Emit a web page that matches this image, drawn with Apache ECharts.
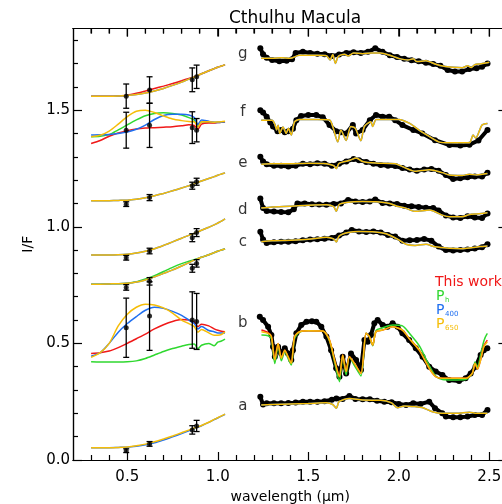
<!DOCTYPE html>
<html>
<head>
<meta charset="utf-8">
<script src="https://cdn.jsdelivr.net/npm/echarts@6.0.0/dist/echarts.min.js"></script>
<style>
  html, body { margin: 0; padding: 0; background: #fff; }
  #chart { width: 502px; height: 504px; }
</style>
</head>
<body>
<div id="chart"></div>
<script>
// ---- Visible range: model curves (I/F, offset per spectrum) ----
const VIS_WL = [0.30,0.35,0.40,0.45,0.50,0.55,0.60,0.65,0.70,0.75,0.80,0.84,0.87,0.89,0.91,0.95,0.98,1.00,1.02,1.04];

const VIS_A       = [0.053,0.053,0.053,0.054,0.056,0.061,0.068,0.078,0.090,0.103,0.117,0.128,0.137,0.142,0.148,0.162,0.174,0.181,0.189,0.197];
const VIS_A_P400  = [0.053,0.053,0.053,0.054,0.055,0.059,0.065,0.074,0.086,0.099,0.113,0.125,0.135,0.141,0.147,0.161,0.173,0.180,0.188,0.196];

const VIS_B_RED    = [0.457,0.460,0.467,0.482,0.500,0.520,0.540,0.562,0.580,0.594,0.602,0.600,0.590,0.572,0.582,0.575,0.562,0.556,0.552,0.550];
const VIS_B_GREEN  = [0.421,0.420,0.420,0.420,0.421,0.425,0.435,0.450,0.465,0.478,0.488,0.495,0.497,0.477,0.492,0.500,0.490,0.505,0.510,0.518];
const VIS_B_BLUE   = [0.445,0.460,0.500,0.548,0.585,0.615,0.642,0.655,0.650,0.637,0.620,0.600,0.585,0.562,0.572,0.555,0.550,0.545,0.545,0.545];
const VIS_B_YELLOW = [0.440,0.460,0.500,0.575,0.625,0.655,0.668,0.665,0.652,0.630,0.600,0.585,0.572,0.548,0.560,0.545,0.535,0.535,0.538,0.550];

const VIS_C       = [0.754,0.754,0.755,0.756,0.758,0.763,0.772,0.785,0.800,0.815,0.832,0.846,0.857,0.863,0.869,0.880,0.889,0.895,0.900,0.905];
const VIS_C_GREEN = [0.754,0.754,0.755,0.756,0.758,0.764,0.776,0.790,0.808,0.826,0.842,0.852,0.859,0.864,0.869,0.880,0.889,0.895,0.900,0.905];

const VIS_D = [0.879,0.879,0.879,0.880,0.882,0.887,0.895,0.906,0.920,0.935,0.951,0.963,0.972,0.978,0.985,0.998,1.008,1.016,1.024,1.034];
const VIS_E = [1.111,1.111,1.112,1.113,1.114,1.118,1.124,1.133,1.143,1.154,1.166,1.176,1.184,1.190,1.196,1.207,1.215,1.221,1.226,1.231];

const VIS_F_RED    = [1.357,1.370,1.388,1.402,1.412,1.419,1.423,1.425,1.427,1.429,1.433,1.437,1.434,1.418,1.440,1.445,1.445,1.447,1.448,1.450];
const VIS_F_GREEN  = [1.386,1.388,1.395,1.415,1.437,1.458,1.476,1.486,1.489,1.486,1.479,1.468,1.457,1.435,1.450,1.448,1.447,1.448,1.449,1.450];
const VIS_F_BLUE   = [1.393,1.394,1.396,1.400,1.406,1.418,1.436,1.460,1.477,1.482,1.482,1.479,1.468,1.438,1.458,1.452,1.448,1.447,1.448,1.450];
const VIS_F_YELLOW = [1.386,1.392,1.410,1.440,1.472,1.495,1.500,1.490,1.475,1.462,1.455,1.451,1.450,1.427,1.450,1.450,1.448,1.449,1.450,1.452];

const VIS_G     = [1.560,1.560,1.560,1.561,1.563,1.567,1.573,1.582,1.593,1.606,1.620,1.633,1.642,1.649,1.656,1.669,1.678,1.684,1.689,1.695];
const VIS_G_RED = [1.560,1.560,1.560,1.561,1.564,1.572,1.582,1.593,1.603,1.614,1.626,1.636,1.643,1.649,1.656,1.669,1.678,1.684,1.689,1.695];

// ---- Photometry with 1-sigma errors ----
const PHOT_WL = [0.494, 0.623, 0.859, 0.883];
const PHOT_A = [0.040,0.069,0.129,0.146]; const ERR_A = [0.008,0.010,0.018,0.024];
const PHOT_B = [0.567,0.617,0.600,0.594]; const ERR_B = [0.127,0.147,0.121,0.120];
const PHOT_C = [0.740,0.766,0.822,0.843]; const ERR_C = [0.012,0.016,0.017,0.016];
const PHOT_D = [0.867,0.896,0.953,0.975]; const ERR_D = [0.010,0.012,0.017,0.017];
const PHOT_E = [1.097,1.125,1.176,1.193]; const ERR_E = [0.010,0.013,0.015,0.015];
const PHOT_F = [1.414,1.435,1.425,1.414]; const ERR_F = [0.077,0.095,0.068,0.050];
const PHOT_G = [1.560,1.586,1.630,1.643]; const ERR_G = [0.052,0.057,0.051,0.050];

// ---- Near-infrared spectra [wavelength, I/F] ----
const NIR_DATA_A = [[1.235,0.271],[1.25,0.238],[1.27,0.243],[1.31,0.243],[1.35,0.243],[1.39,0.244],[1.43,0.246],[1.47,0.25],[1.51,0.25],[1.55,0.25],[1.59,0.252],[1.63,0.258],[1.655,0.264],[1.69,0.262],[1.727,0.274],[1.76,0.262],[1.80,0.26],[1.84,0.26],[1.88,0.254],[1.92,0.25],[1.96,0.248],[2.00,0.24],[2.04,0.236],[2.08,0.243],[2.12,0.24],[2.168,0.25],[2.20,0.222],[2.24,0.2],[2.26,0.186],[2.30,0.183],[2.34,0.183],[2.38,0.186],[2.42,0.193],[2.46,0.193],[2.49,0.214]];
const NIR_MODEL_A = [[1.24,0.236],[1.30,0.238],[1.40,0.24],[1.50,0.242],[1.60,0.245],[1.635,0.238],[1.655,0.222],[1.67,0.25],[1.727,0.264],[1.80,0.257],[1.90,0.256],[1.96,0.245],[1.993,0.224],[2.03,0.232],[2.09,0.229],[2.13,0.225],[2.186,0.207],[2.24,0.2],[2.32,0.2],[2.39,0.205],[2.43,0.2],[2.49,0.2]];

const NIR_DATA_B = [[1.232,0.614],[1.25,0.6],[1.278,0.571],[1.296,0.536],[1.305,0.486],[1.315,0.443],[1.333,0.486],[1.35,0.457],[1.37,0.479],[1.388,0.457],[1.406,0.429],[1.415,0.471],[1.434,0.543],[1.461,0.579],[1.49,0.593],[1.52,0.595],[1.544,0.593],[1.572,0.571],[1.60,0.529],[1.626,0.471],[1.654,0.393],[1.672,0.357],[1.69,0.443],[1.709,0.371],[1.736,0.457],[1.764,0.429],[1.791,0.386],[1.81,0.514],[1.828,0.507],[1.846,0.536],[1.865,0.586],[1.883,0.6],[1.911,0.579],[1.938,0.571],[1.966,0.586],[1.993,0.571],[2.02,0.543],[2.057,0.514],[2.094,0.479],[2.131,0.443],[2.168,0.4],[2.204,0.379],[2.241,0.364],[2.278,0.343],[2.333,0.339],[2.369,0.35],[2.397,0.371],[2.424,0.4],[2.452,0.45],[2.47,0.471],[2.489,0.479]];
const NIR_B_YELLOW = [[1.241,0.55],[1.278,0.543],[1.296,0.53],[1.315,0.429],[1.333,0.5],[1.351,0.436],[1.37,0.471],[1.388,0.443],[1.406,0.414],[1.424,0.529],[1.452,0.55],[1.50,0.554],[1.58,0.553],[1.617,0.514],[1.645,0.429],[1.672,0.357],[1.69,0.45],[1.709,0.379],[1.727,0.443],[1.755,0.414],[1.791,0.371],[1.819,0.543],[1.837,0.53],[1.856,0.493],[1.874,0.55],[1.911,0.557],[1.966,0.571],[2.02,0.557],[2.057,0.521],[2.113,0.471],[2.168,0.393],[2.204,0.357],[2.241,0.35],[2.30,0.35],[2.369,0.35],[2.406,0.371],[2.421,0.414],[2.435,0.39],[2.452,0.429],[2.47,0.486],[2.489,0.507]];
const NIR_B_RED = [[1.241,0.557],[1.278,0.546],[1.296,0.53],[1.315,0.432],[1.333,0.5],[1.351,0.438],[1.37,0.471],[1.388,0.443],[1.406,0.416],[1.424,0.529],[1.452,0.55],[1.50,0.554],[1.58,0.553],[1.617,0.514],[1.645,0.429],[1.672,0.36],[1.69,0.45],[1.709,0.38],[1.727,0.443],[1.755,0.414],[1.791,0.372],[1.819,0.543],[1.837,0.53],[1.856,0.493],[1.874,0.55],[1.911,0.557],[1.966,0.571],[2.02,0.557],[2.057,0.521],[2.113,0.471],[2.168,0.393],[2.204,0.357],[2.241,0.35],[2.30,0.35],[2.369,0.35],[2.406,0.371],[2.421,0.414],[2.435,0.39],[2.452,0.43],[2.47,0.49],[2.489,0.514]];
const NIR_B_GREEN = [[1.241,0.536],[1.278,0.533],[1.296,0.52],[1.315,0.414],[1.333,0.49],[1.351,0.425],[1.37,0.465],[1.388,0.435],[1.406,0.407],[1.424,0.52],[1.452,0.548],[1.50,0.554],[1.58,0.553],[1.617,0.51],[1.645,0.42],[1.672,0.336],[1.69,0.445],[1.709,0.365],[1.727,0.44],[1.755,0.405],[1.791,0.36],[1.819,0.543],[1.837,0.53],[1.856,0.49],[1.874,0.555],[1.911,0.567],[1.966,0.579],[2.02,0.575],[2.057,0.545],[2.113,0.49],[2.168,0.405],[2.204,0.36],[2.241,0.345],[2.30,0.343],[2.369,0.345],[2.406,0.371],[2.421,0.42],[2.435,0.4],[2.452,0.45],[2.47,0.51],[2.489,0.543]];

const NIR_DATA_C = [[1.235,0.979],[1.25,0.945],[1.27,0.93],[1.31,0.934],[1.35,0.936],[1.39,0.936],[1.43,0.938],[1.47,0.942],[1.51,0.945],[1.55,0.946],[1.59,0.949],[1.63,0.952],[1.67,0.962],[1.71,0.975],[1.74,0.986],[1.78,0.98],[1.82,0.978],[1.86,0.98],[1.90,0.975],[1.94,0.965],[1.98,0.958],[2.02,0.94],[2.06,0.942],[2.10,0.943],[2.14,0.948],[2.18,0.94],[2.22,0.915],[2.26,0.9],[2.30,0.898],[2.34,0.9],[2.38,0.902],[2.42,0.907],[2.46,0.912],[2.49,0.925]];
const NIR_MODEL_C = [[1.24,0.936],[1.30,0.94],[1.40,0.942],[1.50,0.946],[1.60,0.955],[1.64,0.948],[1.655,0.935],[1.67,0.96],[1.72,0.975],[1.78,0.98],[1.87,0.978],[1.93,0.97],[1.99,0.948],[2.04,0.925],[2.09,0.92],[2.15,0.925],[2.20,0.914],[2.28,0.908],[2.35,0.906],[2.40,0.91],[2.45,0.915],[2.49,0.918]];

const NIR_DATA_D = [[1.235,1.121],[1.25,1.08],[1.27,1.068],[1.31,1.065],[1.35,1.063],[1.39,1.062],[1.42,1.075],[1.44,1.1],[1.48,1.1],[1.52,1.097],[1.56,1.095],[1.60,1.094],[1.64,1.098],[1.68,1.1],[1.72,1.115],[1.76,1.108],[1.80,1.106],[1.84,1.108],[1.87,1.117],[1.91,1.102],[1.95,1.1],[1.99,1.098],[2.03,1.09],[2.07,1.088],[2.11,1.085],[2.15,1.082],[2.19,1.08],[2.22,1.07],[2.26,1.048],[2.30,1.04],[2.34,1.038],[2.38,1.045],[2.42,1.04],[2.46,1.038],[2.49,1.057]];
const NIR_MODEL_D = [[1.24,1.08],[1.30,1.085],[1.40,1.088],[1.50,1.092],[1.60,1.094],[1.64,1.086],[1.655,1.066],[1.67,1.095],[1.72,1.105],[1.80,1.108],[1.87,1.107],[1.95,1.1],[1.99,1.088],[2.03,1.082],[2.09,1.066],[2.17,1.072],[2.24,1.05],[2.28,1.043],[2.35,1.043],[2.39,1.052],[2.43,1.055],[2.49,1.06]];

const NIR_DATA_E = [[1.235,1.3],[1.25,1.28],[1.27,1.268],[1.31,1.262],[1.35,1.262],[1.39,1.258],[1.43,1.262],[1.47,1.27],[1.51,1.268],[1.55,1.272],[1.59,1.27],[1.63,1.262],[1.67,1.27],[1.71,1.28],[1.75,1.29],[1.78,1.285],[1.82,1.278],[1.86,1.27],[1.90,1.265],[1.94,1.262],[1.98,1.26],[2.02,1.252],[2.06,1.245],[2.10,1.24],[2.14,1.245],[2.18,1.248],[2.22,1.24],[2.26,1.222],[2.30,1.205],[2.34,1.208],[2.38,1.212],[2.42,1.215],[2.46,1.215],[2.49,1.232]];
const NIR_MODEL_E = [[1.24,1.268],[1.30,1.27],[1.40,1.27],[1.50,1.272],[1.60,1.27],[1.64,1.262],[1.655,1.25],[1.67,1.272],[1.73,1.285],[1.765,1.295],[1.80,1.28],[1.87,1.273],[1.98,1.27],[2.02,1.258],[2.09,1.238],[2.17,1.244],[2.24,1.232],[2.28,1.222],[2.35,1.22],[2.39,1.225],[2.43,1.222],[2.49,1.228]];

const NIR_DATA_F = [[1.235,1.5],[1.25,1.49],[1.27,1.472],[1.29,1.447],[1.305,1.43],[1.33,1.41],[1.35,1.415],[1.37,1.405],[1.39,1.41],[1.415,1.42],[1.434,1.457],[1.46,1.475],[1.50,1.479],[1.544,1.479],[1.58,1.47],[1.617,1.436],[1.654,1.41],[1.68,1.405],[1.709,1.4],[1.746,1.436],[1.764,1.4],[1.80,1.415],[1.84,1.457],[1.874,1.479],[1.91,1.472],[1.947,1.472],[1.98,1.457],[2.02,1.436],[2.08,1.415],[2.13,1.4],[2.20,1.371],[2.28,1.35],[2.34,1.348],[2.39,1.352],[2.44,1.37],[2.49,1.415]];
const NIR_MODEL_F = [[1.24,1.457],[1.30,1.457],[1.315,1.44],[1.325,1.415],[1.333,1.435],[1.342,1.4],[1.36,1.428],[1.378,1.4],[1.39,1.422],[1.406,1.393],[1.424,1.45],[1.45,1.46],[1.55,1.46],[1.617,1.458],[1.635,1.43],[1.663,1.364],[1.68,1.415],[1.709,1.37],[1.735,1.43],[1.76,1.422],[1.79,1.369],[1.81,1.43],[1.845,1.45],[1.856,1.43],[1.875,1.46],[1.95,1.46],[2.0,1.46],[2.06,1.443],[2.11,1.415],[2.17,1.386],[2.22,1.364],[2.28,1.36],[2.39,1.36],[2.41,1.393],[2.425,1.38],[2.46,1.436],[2.49,1.443]];

const NIR_DATA_G = [[1.235,1.765],[1.25,1.74],[1.27,1.725],[1.30,1.715],[1.34,1.71],[1.38,1.712],[1.41,1.718],[1.43,1.745],[1.47,1.75],[1.51,1.745],[1.55,1.742],[1.59,1.74],[1.63,1.732],[1.67,1.738],[1.71,1.745],[1.75,1.748],[1.79,1.745],[1.83,1.75],[1.87,1.765],[1.91,1.75],[1.95,1.735],[1.99,1.728],[2.03,1.72],[2.07,1.714],[2.11,1.71],[2.15,1.703],[2.19,1.698],[2.23,1.69],[2.27,1.672],[2.31,1.666],[2.35,1.666],[2.39,1.676],[2.43,1.68],[2.46,1.686],[2.49,1.7]];
const NIR_MODEL_G = [[1.24,1.722],[1.30,1.722],[1.35,1.725],[1.40,1.722],[1.45,1.735],[1.55,1.735],[1.60,1.733],[1.62,1.715],[1.635,1.738],[1.65,1.7],[1.665,1.73],[1.70,1.74],[1.72,1.732],[1.75,1.745],[1.80,1.742],[1.85,1.745],[1.90,1.745],[1.95,1.735],[2.00,1.722],[2.05,1.715],[2.08,1.72],[2.10,1.708],[2.15,1.712],[2.20,1.698],[2.25,1.688],[2.30,1.684],[2.35,1.682],[2.38,1.69],[2.40,1.683],[2.42,1.695],[2.45,1.698],[2.48,1.702],[2.50,1.705]];

// ---- Spectrum letters ----
const LETTERS   = ['a','b','c','d','e','f','g'];
const LETTER_WL = 1.138;
const LETTER_Y  = [0.233,0.586,0.936,1.072,1.272,1.493,1.740];

// ---- Axis ranges and ticks ----
const X_MIN = 0.2, X_MAX = 2.6, Y_MIN = 0, Y_MAX = 1.85;
const X_MAJOR = [0.5,1.0,1.5,2.0,2.5];
const X_MINOR = [0.3,0.4,0.6,0.7,0.8,0.9,1.1,1.2,1.3,1.4,1.6,1.7,1.8,1.9,2.1,2.2,2.3,2.4];
const Y_MAJOR = [0.0,0.5,1.0,1.5];
const Y_MINOR = [0.1,0.2,0.3,0.4,0.6,0.7,0.8,0.9,1.1,1.2,1.3,1.4,1.6,1.7,1.8];

const RED = '#f01818', GREEN = '#2fd82f', BLUE = '#1f6ff0', YELLOW = '#f5bd08';
const FONT = 'DejaVu Sans';
const W = 502, H = 504;
const GRID = { left: 73, top: 28.5, right: -5.4, bottom: 44, outerBoundsMode: 'none', containLabel: false };

const pairs = (xs, ys) => xs.map((x, i) => [x, ys[i]]);

function model(data, color, z) {
  return { type: 'line', data, showSymbol: false, smooth: 0.25, z,
    lineStyle: { color, width: 1.5 }, itemStyle: { color }, silent: true };
}
function nirData(data) {
  return { type: 'line', data, symbol: 'circle', symbolSize: 6, showSymbol: true, z: 1,
    lineStyle: { color: '#000', width: 4 }, itemStyle: { color: '#000' }, silent: true };
}
function phot(vals, errs) {
  return [
    { type: 'custom', z: 10, silent: true,
      data: PHOT_WL.map((x, i) => [x, vals[i], errs[i]]),
      renderItem: (params, api) => {
        const x = api.value(0), y = api.value(1), e = api.value(2);
        const t = api.coord([x, y + e]), b = api.coord([x, y - e]);
        const st = { stroke: '#000', lineWidth: 1.3 };
        return { type: 'group', children: [
          { type: 'line', shape: { x1: t[0], y1: t[1], x2: b[0], y2: b[1] }, style: st },
          { type: 'line', shape: { x1: t[0] - 3, y1: t[1], x2: t[0] + 3, y2: t[1] }, style: st },
          { type: 'line', shape: { x1: b[0] - 3, y1: b[1], x2: b[0] + 3, y2: b[1] }, style: st }
        ]};
      } },
    { type: 'scatter', z: 11, silent: true, symbol: 'circle', symbolSize: 5,
      itemStyle: { color: '#000' }, data: pairs(PHOT_WL, vals) }
  ];
}

const series = [];
// near-infrared observed spectra
[NIR_DATA_A, NIR_DATA_B, NIR_DATA_C, NIR_DATA_D, NIR_DATA_E, NIR_DATA_F, NIR_DATA_G].forEach(d => series.push(nirData(d)));
// near-infrared models
series.push(model(NIR_B_GREEN, GREEN, 3), model(NIR_B_RED, RED, 4), model(NIR_B_YELLOW, YELLOW, 6));
[NIR_MODEL_A, NIR_MODEL_C, NIR_MODEL_D, NIR_MODEL_E, NIR_MODEL_F, NIR_MODEL_G].forEach(d => {
  series.push(model(d, BLUE, 5), model(d, YELLOW, 6));
});
// visible models
series.push(
  model(pairs(VIS_WL, VIS_A_P400), BLUE, 5), model(pairs(VIS_WL, VIS_A), YELLOW, 6),
  model(pairs(VIS_WL, VIS_B_GREEN), GREEN, 3), model(pairs(VIS_WL, VIS_B_RED), RED, 4),
  model(pairs(VIS_WL, VIS_B_BLUE), BLUE, 5), model(pairs(VIS_WL, VIS_B_YELLOW), YELLOW, 6),
  model(pairs(VIS_WL, VIS_C_GREEN), GREEN, 3), model(pairs(VIS_WL, VIS_C), BLUE, 5), model(pairs(VIS_WL, VIS_C), YELLOW, 6),
  model(pairs(VIS_WL, VIS_D), BLUE, 5), model(pairs(VIS_WL, VIS_D), YELLOW, 6),
  model(pairs(VIS_WL, VIS_E), BLUE, 5), model(pairs(VIS_WL, VIS_E), YELLOW, 6),
  model(pairs(VIS_WL, VIS_F_RED), RED, 4), model(pairs(VIS_WL, VIS_F_GREEN), GREEN, 3),
  model(pairs(VIS_WL, VIS_F_BLUE), BLUE, 5), model(pairs(VIS_WL, VIS_F_YELLOW), YELLOW, 6),
  model(pairs(VIS_WL, VIS_G_RED), RED, 4), model(pairs(VIS_WL, VIS_G), BLUE, 5), model(pairs(VIS_WL, VIS_G), YELLOW, 6)
);
// photometry
[[PHOT_A,ERR_A],[PHOT_B,ERR_B],[PHOT_C,ERR_C],[PHOT_D,ERR_D],[PHOT_E,ERR_E],[PHOT_F,ERR_F],[PHOT_G,ERR_G]]
  .forEach(([v, e]) => series.push(...phot(v, e)));
// letters
series.push({ type: 'scatter', symbolSize: 0, silent: true, z: 12,
  data: LETTERS.map((l, i) => ({ value: [LETTER_WL, LETTER_Y[i]], name: l })),
  label: { show: true, position: 'inside', formatter: p => p.name, color: '#000', fontSize: 15, fontFamily: FONT } });

function xAx(pos, vals, len, labels) {
  return { type: 'value', position: pos, min: X_MIN, max: X_MAX, z: 50,
    axisLine: { show: true, onZero: false, lineStyle: { color: '#000', width: 1.2 } },
    splitLine: { show: false },
    axisTick: { show: true, inside: true, length: len, customValues: vals, lineStyle: { color: '#000', width: 1.2 } },
    axisLabel: labels ? { show: true, customValues: vals, formatter: v => v.toFixed(1), color: '#000', fontSize: 15, fontFamily: FONT, margin: 10 } : { show: false } };
}
function yAx(pos, vals, len, labels) {
  return { type: 'value', position: pos, min: Y_MIN, max: Y_MAX, z: 50,
    axisLine: { show: true, onZero: false, lineStyle: { color: '#000', width: 1.2 } },
    splitLine: { show: false },
    axisTick: { show: true, inside: true, length: len, customValues: vals, lineStyle: { color: '#000', width: 1.2 } },
    axisLabel: labels ? { show: true, customValues: vals, formatter: v => v.toFixed(1), color: '#000', fontSize: 15, fontFamily: FONT, margin: 3 } : { show: false } };
}
const xMain = xAx('bottom', X_MAJOR, 8, true);
xMain.name = 'wavelength (μm)';
xMain.nameLocation = 'middle';
xMain.nameGap = 30;
xMain.nameTextStyle = { color: '#000', fontSize: 14, fontFamily: FONT };
const yMain = yAx('left', Y_MAJOR, 9, true);
yMain.name = 'I/F';
yMain.nameLocation = 'middle';
yMain.nameGap = 38;
yMain.nameRotate = 90;
yMain.nameTextStyle = { color: '#000', fontSize: 14, fontFamily: FONT };

// top edge of the plot frame with inward ticks, on its own canvas layer
const plotW = W - GRID.left - GRID.right;
const tickX = v => GRID.left + (v - X_MIN) / (X_MAX - X_MIN) * plotW;
const frameStyle = { stroke: '#000', lineWidth: 1.2 };
const frameTop = [{ type: 'line', zlevel: 1, z: 100, silent: true,
  shape: { x1: GRID.left, y1: GRID.top, x2: W, y2: GRID.top }, style: frameStyle }]
  .concat(X_MAJOR.map(v => ({ type: 'line', zlevel: 1, z: 100, silent: true,
    shape: { x1: tickX(v), y1: GRID.top, x2: tickX(v), y2: GRID.top + 8 }, style: frameStyle })))
  .concat(X_MINOR.map(v => ({ type: 'line', zlevel: 1, z: 100, silent: true,
    shape: { x1: tickX(v), y1: GRID.top, x2: tickX(v), y2: GRID.top + 5 }, style: frameStyle })));

const legendText = [
  { type: 'text', x: 435, y: 282, style: { text: 'This work', font: '14px ' + FONT, fill: RED, align: 'left', verticalAlign: 'middle' } },
  { type: 'text', x: 436, y: 296, style: { text: 'P', font: '14px ' + FONT, fill: GREEN, align: 'left', verticalAlign: 'middle' } },
  { type: 'text', x: 445, y: 300, style: { text: 'h', font: '7px ' + FONT, fill: GREEN, align: 'left', verticalAlign: 'middle' } },
  { type: 'text', x: 436, y: 310, style: { text: 'P', font: '14px ' + FONT, fill: BLUE, align: 'left', verticalAlign: 'middle' } },
  { type: 'text', x: 445, y: 314, style: { text: '400', font: '7px ' + FONT, fill: BLUE, align: 'left', verticalAlign: 'middle' } },
  { type: 'text', x: 436, y: 324, style: { text: 'P', font: '14px ' + FONT, fill: YELLOW, align: 'left', verticalAlign: 'middle' } },
  { type: 'text', x: 445, y: 328, style: { text: '650', font: '7px ' + FONT, fill: YELLOW, align: 'left', verticalAlign: 'middle' } }
];

const chart = echarts.init(document.getElementById('chart'), null, { renderer: 'canvas' });
chart.setOption({
  animation: false,
  backgroundColor: '#fff',
  title: { text: 'Cthulhu Macula', left: 290, top: 5, textAlign: 'center',
    textStyle: { color: '#000', fontSize: 17, fontWeight: 'normal', fontFamily: FONT } },
  grid: [Object.assign({}, GRID), Object.assign({}, GRID)],
  xAxis: [xMain, xAx('top', X_MAJOR, 8, false),
          Object.assign(xAx('bottom', X_MINOR, 5, false), { gridIndex: 1 }),
          Object.assign(xAx('top', X_MINOR, 5, false), { gridIndex: 1 })],
  yAxis: [yMain, yAx('right', Y_MAJOR, 9, false),
          Object.assign(yAx('left', Y_MINOR, 5, false), { gridIndex: 1 }),
          Object.assign(yAx('right', Y_MINOR, 5, false), { gridIndex: 1 })],
  series: series.concat([{ type: 'line', xAxisIndex: 2, yAxisIndex: 2, data: [], silent: true }]),
  graphic: legendText.concat(frameTop)
});
</script>
</body>
</html>
